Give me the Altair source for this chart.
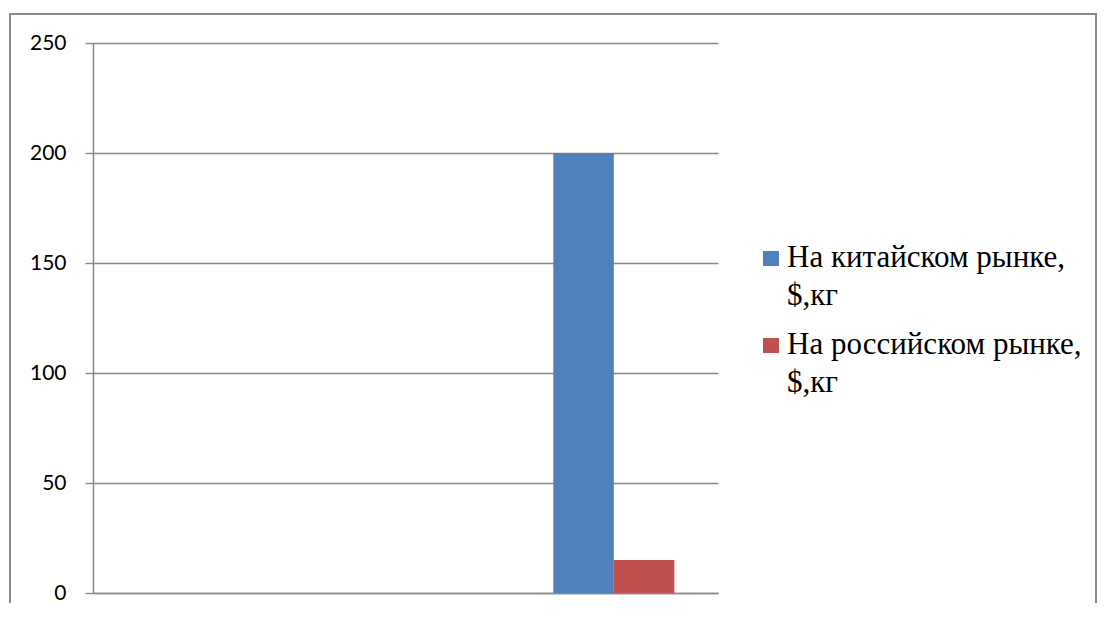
import altair as alt
import pandas as pd

# ---- data ----
categories = ["1", "2", "3"]
series_names = ["На китайском рынке, $,кг", "На российском рынке, $,кг"]
china_values = [0, 0, 200]
russia_values = [0, 0, 15]
colors = ["#4F81BD", "#C0504D"]
y_ticks = [0, 50, 100, 150, 200, 250]

rows = []
for c, v in zip(categories, china_values):
    rows.append({"cat": c, "series": series_names[0], "value": v})
for c, v in zip(categories, russia_values):
    rows.append({"cat": c, "series": series_names[1], "value": v})
df = pd.DataFrame(rows)

GRAY = "#898989"

bars = alt.Chart(df).mark_bar().encode(
    x=alt.X("cat:N", sort=categories,
            scale=alt.Scale(domain=categories, paddingInner=0, paddingOuter=0),
            axis=alt.Axis(title=None, labels=False, ticks=False, domainColor=GRAY,
                          domainWidth=1.5, grid=False)),
    xOffset=alt.XOffset("series:N", sort=series_names,
                        scale=alt.Scale(domain=series_names, paddingInner=0, paddingOuter=0.72)),
    y=alt.Y("value:Q",
            scale=alt.Scale(domain=[0, 250], nice=False),
            axis=alt.Axis(title=None, values=y_ticks, grid=True, gridColor=GRAY, gridWidth=1.4,
                          domainColor=GRAY, domainWidth=1.5, tickColor=GRAY, tickWidth=1.4,
                          tickSize=8, labelPadding=19, labelFont="Lato", labelFontSize=21,
                          labelColor="#000000")),
    color=alt.Color("series:N", sort=series_names,
                    scale=alt.Scale(domain=series_names, range=colors), legend=None),
)

# outer chart border
border = alt.Chart(pd.DataFrame({"a": [0]})).mark_rect(
    fill=None, stroke=GRAY, strokeWidth=2
).encode(x=alt.value(-83), x2=alt.value(1003), y=alt.value(-29), y2=alt.value(620))

# manual legend (two-line labels, one text mark per line)
legend_layers = []
for i, (name, col) in enumerate(zip(series_names, colors)):
    dy = i * 87
    sq = alt.Chart(pd.DataFrame({"s": [name]})).mark_rect(color=col).encode(
        x=alt.value(670), x2=alt.value(686), y=alt.value(208 + dy), y2=alt.value(223 + dy))
    legend_layers.append(sq)
    first, second = name.split(", ")
    for j, line in enumerate([first + ",", second]):
        txt = alt.Chart(pd.DataFrame({"s": [line]})).mark_text(
            align="left", baseline="alphabetic", font="Liberation Serif", fontSize=31,
            color="#000000"
        ).encode(x=alt.value(694), y=alt.value(224 + dy + 38 * j), text="s:N")
        legend_layers.append(txt)

chart = alt.layer(bars, border, *legend_layers).properties(
    width=625, height=550,
    autosize=alt.AutoSizeParams(type="none"),
    padding={"left": 85, "top": 35, "right": 380, "bottom": 10},
).configure_view(stroke=None)

chart.save("out.html", embed_options={"renderer": "svg", "actions": False})
